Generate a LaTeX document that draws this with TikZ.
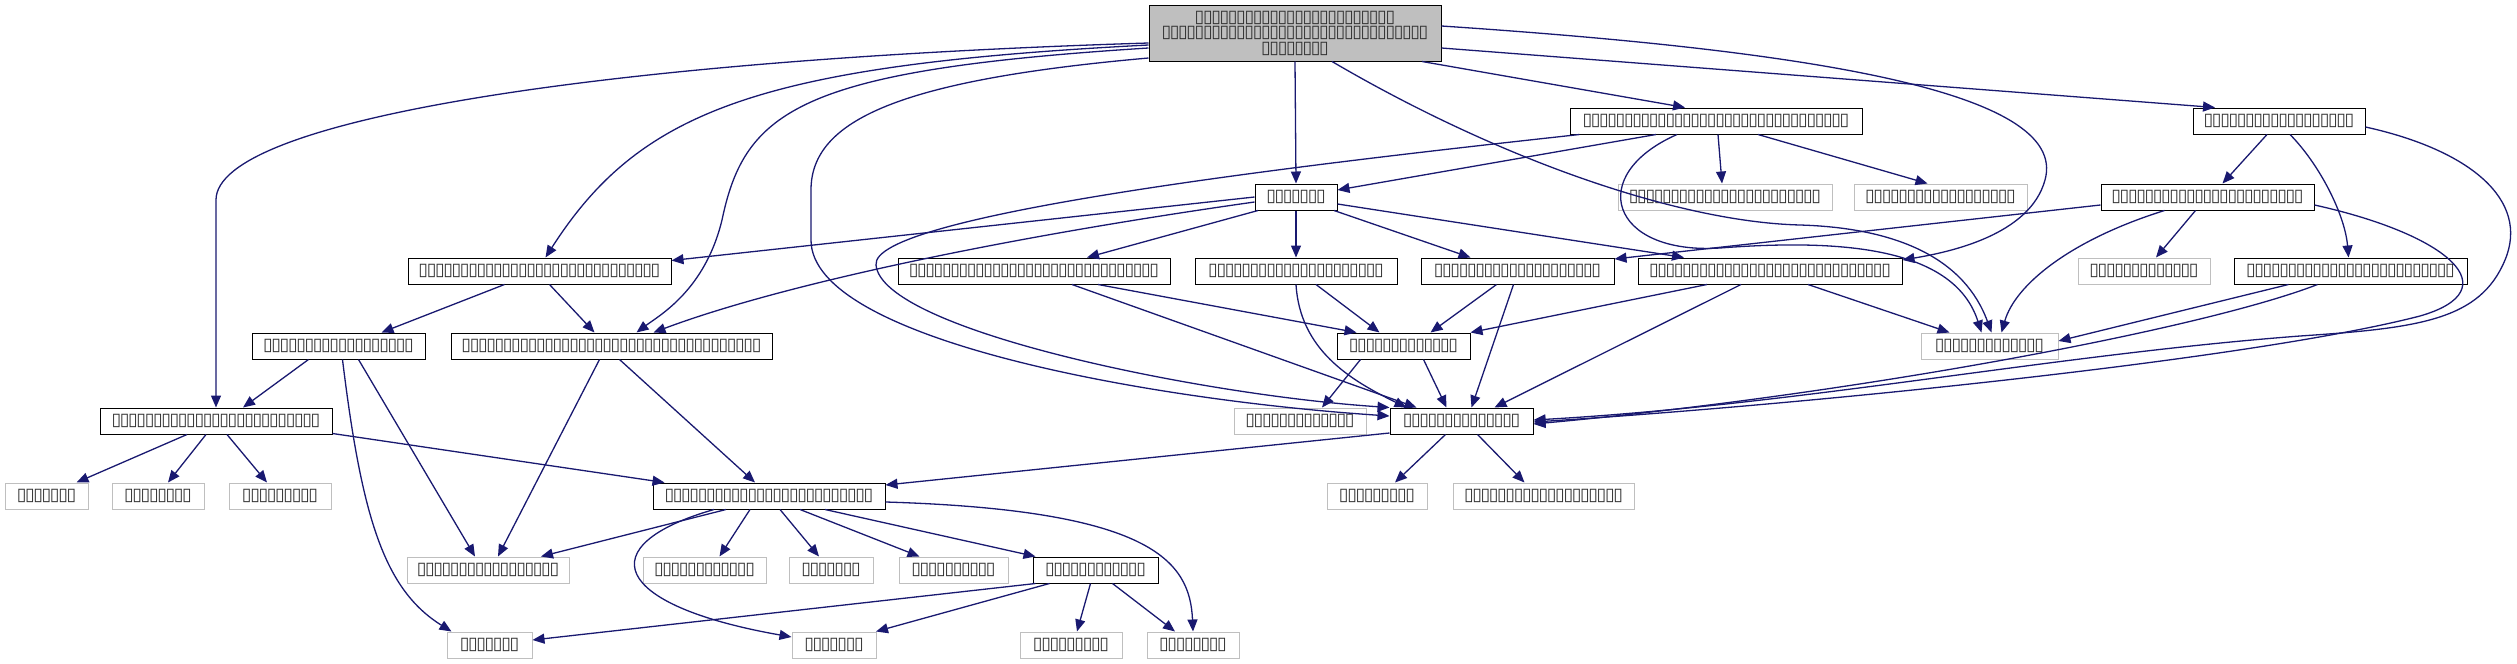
\documentclass[tikz,border=0pt]{standalone}
\usepackage{fontspec}
\newfontfamily\tfont{DejaVu Sans}
\usetikzlibrary{arrows.meta,calc}
\definecolor{edgec}{HTML}{191970}
\definecolor{grayb}{HTML}{BFBFBF}
\definecolor{rootf}{HTML}{BFBFBF}
\definecolor{tofuc}{HTML}{303030}
\newcommand\tofu[1]{\foreach\tfi in {1,...,#1}{\makebox[8.3pt]{▯}}}
\tikzset{
  base/.style={rectangle, inner sep=0pt, minimum height=26pt, line width=1pt, font=\tfont\fontsize{17.5}{15.5}\selectfont, text=tofuc},
  bn/.style={base, draw=black, fill=white},
  gn/.style={base, draw=grayb, fill=white},
  e/.style={draw=edgec, line width=1.3pt, -{Triangle[length=12pt,width=10pt]}, fill=none},
}
\begin{document}
\begin{tikzpicture}[x=1pt,y=-1pt]
\useasboundingbox (0,0) rectangle (2517,664);
% nodes
\node[bn, fill=rootf, minimum width=292pt, minimum height=56pt, align=center] (Root) at (1295,33) {\tofu{24}\hspace{66.4pt}\\\tofu{32}\\\tofu{8}};
\node[bn, minimum width=292pt] (A) at (1716,121) {\tofu{32}};
\node[bn, minimum width=172pt] (B) at (2279,121) {\tofu{18}};
\node[bn, minimum width=82pt] (C) at (1296,197) {\tofu{7}};
\node[gn, minimum width=214pt] (D) at (1725,197) {\tofu{23}};
\node[gn, minimum width=173pt] (E) at (1940.5,197) {\tofu{18}};
\node[bn, minimum width=213pt] (F) at (2207.5,197) {\tofu{23}};
\node[bn, minimum width=263pt] (G) at (539.5,271) {\tofu{29}};
\node[bn, minimum width=272pt] (H) at (1034,271) {\tofu{30}};
\node[bn, minimum width=202pt] (I) at (1296,271) {\tofu{21}};
\node[bn, minimum width=193pt] (J) at (1517.5,271) {\tofu{20}};
\node[bn, minimum width=264pt] (K) at (1770,271) {\tofu{29}};
\node[gn, minimum width=132pt] (L) at (2144,271) {\tofu{13}};
\node[bn, minimum width=233pt] (M) at (2350.5,271) {\tofu{25}};
\node[bn, minimum width=173pt] (N) at (338.5,346) {\tofu{18}};
\node[bn, minimum width=321pt] (O) at (611.5,346) {\tofu{36}};
\node[bn, minimum width=133pt] (P) at (1403.5,346) {\tofu{13}};
\node[gn, minimum width=137pt] (Q) at (1989.5,346) {\tofu{13}};
\node[bn, minimum width=232pt] (R) at (216,421) {\tofu{25}};
\node[gn, minimum width=132pt] (S) at (1300,421) {\tofu{13}};
\node[bn, minimum width=143pt] (T) at (1461.5,421) {\tofu{14}};
\node[gn, minimum width=83pt] (U) at (46.5,496) {\tofu{7}};
\node[gn, minimum width=92pt] (V) at (158,496) {\tofu{8}};
\node[gn, minimum width=102pt] (W) at (280,496) {\tofu{9}};
\node[bn, minimum width=232pt] (X) at (769,496) {\tofu{25}};
\node[gn, minimum width=100pt] (Y) at (1377,496) {\tofu{9}};
\node[gn, minimum width=181pt] (Z) at (1543.5,496) {\tofu{19}};
\node[gn, minimum width=162pt] (AA) at (488,570) {\tofu{17}};
\node[gn, minimum width=123pt] (AB) at (704.5,570) {\tofu{12}};
\node[gn, minimum width=84pt] (AC) at (831,570) {\tofu{7}};
\node[gn, minimum width=109pt] (AD) at (953.5,570) {\tofu{10}};
\node[bn, minimum width=125pt] (AE) at (1095.5,570) {\tofu{12}};
\node[gn, minimum width=85pt] (AF) at (489.5,645) {\tofu{7}};
\node[gn, minimum width=84pt] (AG) at (834,645) {\tofu{7}};
\node[gn, minimum width=102pt] (AH) at (1071,645) {\tofu{9}};
\node[gn, minimum width=92pt] (AI) at (1193,645) {\tofu{8}};
% edges from root
\draw[e] ([yshift=-10pt]Root.west) .. controls (600,60) and (216,120) .. (216,200) -- (R.north);
\draw[e] ([yshift=-12pt]Root.west) .. controls (760,65) and (640,110) .. ([xshift=6pt]G.north);
\draw[e] ([yshift=-15pt]Root.west) .. controls (800,70) and (745,110) .. (722,220) .. controls (705,290) and (660,315) .. ([xshift=25pt]O.north);
\draw[e] ([yshift=-25pt]Root.west) .. controls (900,80) and (811,120) .. (811,190) -- (811,240) .. controls (811,340) and (1150,400) .. ([yshift=5pt]T.west);
\draw[e] (Root.south) -- (C.north);
\draw[e] ([xshift=127pt]Root.south) -- ([xshift=-31pt]A.north);
\draw[e] ([yshift=-15pt]Root.east) -- ([xshift=-64pt]B.north);
\draw[e] ([xshift=37pt]Root.south) .. controls (1500,160) and (1680,222) .. (1800,225) .. controls (1900,228) and (1965,260) .. ([xshift=2pt]Q.north);
\draw[e] ([yshift=7pt]Root.east) .. controls (1800,50) and (2070,90) .. (2045,180) .. controls (2030,235) and (1950,252) .. ([yshift=11pt]K.east);
% from A
\draw[e] ([xshift=-60pt]A.south) -- ([yshift=7pt]C.east);
\draw[e] ([xshift=2pt]A.south) -- ([xshift=-3pt]D.north);
\draw[e] ([xshift=42pt]A.south) -- ([xshift=-13pt]E.north);
\draw[e] ([xshift=10pt]A.south west) .. controls (1300,165) and (870,215) .. (876,265) .. controls (882,330) and (1200,395) .. (T.north west);
\draw[e] ([xshift=-39pt]A.south) .. controls (1585,175) and (1610,255) .. (1720,248) .. controls (1850,238) and (1955,250) .. ([xshift=-8pt]Q.north);
% from B
\draw[e] ([xshift=-12pt]B.south) -- ([xshift=15pt]F.north);
\draw[e] ([xshift=11pt]B.south) .. controls (2320,165) and (2345,215) .. ([xshift=-2pt]M.north);
\draw[e] ([yshift=-6pt]B.east) .. controls (2470,150) and (2530,200) .. (2505,260) .. controls (2480,320) and (2420,328) .. (2300,336) .. controls (2050,355) and (1800,405) .. ([yshift=1pt]T.east);
% from F
\draw[e] ([yshift=-8pt]F.east) .. controls (2450,235) and (2510,290) .. (2420,316) .. controls (2250,360) and (1800,405) .. ([yshift=-1pt]T.east);
\draw[e] ([yshift=-8pt]F.west) -- ([yshift=12pt]J.east);
\draw[e] ([xshift=-12pt]F.south) -- ([xshift=12pt]L.north);
\draw[e] ([xshift=-43pt]F.south) .. controls (2070,240) and (2015,285) .. ([xshift=12pt]Q.north);
% from M
\draw[e] ([xshift=-33pt]M.south) .. controls (2200,330) and (1850,395) .. ([yshift=-3pt]T.east);
\draw[e] ([xshift=-62pt]M.south) -- ([yshift=5pt]Q.east);
% from C
\draw[e] (C.west) -- ([yshift=-3pt]G.north east);
\draw[e] ([yshift=-5pt]C.west) .. controls (1000,238) and (780,285) .. ([xshift=42pt]O.north);
\draw[e] ([xshift=-38pt]C.south) -- ([xshift=53pt]H.north);
\draw[e] (C.south) -- (I.north);
\draw[e] ([xshift=38pt]C.south) -- ([xshift=-47pt]J.north);
\draw[e] ([yshift=-7pt]C.east) -- ([xshift=-86pt]K.north);
% from G, N, O
\draw[e] ([xshift=-35pt]G.south) -- ([xshift=43pt]N.north);
\draw[e] ([xshift=10pt]G.south) -- ([xshift=-17pt]O.north);
\draw[e] ([xshift=-30pt]N.south) -- ([xshift=27pt]R.north);
\draw[e] ([xshift=4pt]N.south) .. controls (362,520) and (385,590) .. ([xshift=5pt]AF.north west);
\draw[e] ([xshift=20pt]N.south) -- ([xshift=-13pt]AA.north);
\draw[e] ([xshift=-12pt]O.south) -- ([xshift=10pt]AA.north);
\draw[e] ([xshift=8pt]O.south) -- ([xshift=-14pt]X.north);
% from R
\draw[e] ([xshift=-29pt]R.south) -- ([xshift=30pt]U.north);
\draw[e] ([xshift=-10pt]R.south) -- ([xshift=10pt]V.north);
\draw[e] ([xshift=11pt]R.south) -- ([xshift=-13pt]W.north);
\draw[e] ([yshift=1pt]R.south east) -- ([xshift=12pt]X.north west);
% from T
\draw[e] ([yshift=-12pt]T.west) -- ([yshift=11pt]X.east);
\draw[e] ([xshift=-16pt]T.south) -- ([xshift=18pt]Y.north);
\draw[e] ([xshift=16pt]T.south) -- ([xshift=-19pt]Z.north);
% from X
\draw[e] ([xshift=-43pt]X.south) -- ([xshift=53pt]AA.north);
\draw[e] ([xshift=-19pt]X.south) -- ([xshift=15pt]AB.north);
\draw[e] ([xshift=11pt]X.south) -- ([xshift=-12pt]AC.north);
\draw[e] ([xshift=31pt]X.south) -- ([xshift=-34pt]AD.north);
\draw[e] ([xshift=56pt]X.south) -- ([xshift=-60pt]AE.north);
\draw[e] ([xshift=-55pt]X.south) .. controls (590,545) and (610,605) .. ([yshift=8pt]AG.west);
\draw[e] ([yshift=-6pt]X.east) .. controls (1150,510) and (1190,560) .. (AI.north);
% from AE
\draw[e] ([xshift=-60pt]AE.south) -- ([yshift=5pt]AF.east);
\draw[e] ([xshift=-46pt]AE.south) -- ([xshift=42pt]AG.north);
\draw[e] ([xshift=-5pt]AE.south) -- ([xshift=6pt]AH.north);
\draw[e] ([xshift=17pt]AE.south) -- ([xshift=-18pt]AI.north);
% from H, I, J, K, P
\draw[e] ([xshift=64pt]H.south) -- ([xshift=-47pt]P.north);
\draw[e] ([xshift=38pt]H.south) -- ([xshift=-45pt]T.north);
\draw[e] ([xshift=20pt]I.south) -- ([xshift=-24pt]P.north);
\draw[e] (I.south) .. controls (1300,350) and (1350,380) .. ([xshift=-55pt]T.north);
\draw[e] ([xshift=-21pt]J.south) -- ([xshift=27pt]P.north);
\draw[e] ([xshift=-4pt]J.south) -- ([xshift=10pt]T.north);
\draw[e] ([xshift=-63pt]K.south) -- (P.north east);
\draw[e] ([xshift=-29pt]K.south) -- ([xshift=33pt]T.north);
\draw[e] ([xshift=38pt]K.south) -- ([xshift=-40pt]Q.north);
\draw[e] ([xshift=-43pt]P.south) -- ([xshift=22pt]S.north);
\draw[e] ([xshift=20pt]P.south) -- ([xshift=-15pt]T.north);
\end{tikzpicture}
\end{document}
